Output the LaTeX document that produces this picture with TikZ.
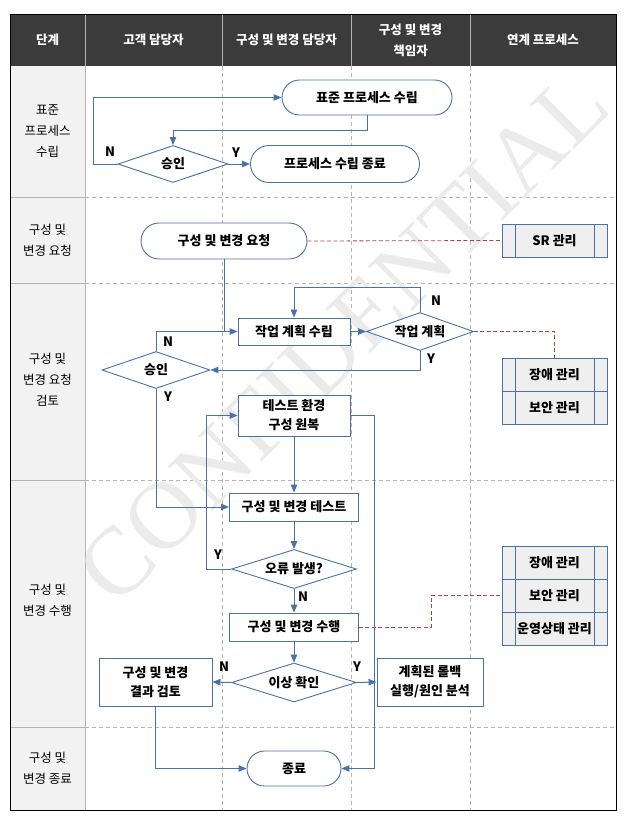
\documentclass[tikz,border=0pt]{standalone}
\usepackage{fontspec}
\setmainfont{Noto Sans CJK KR}
\newfontfamily\markfont{Liberation Serif}
\usetikzlibrary{arrows.meta, shapes.geometric, shapes.misc}
\definecolor{flow-blue}{HTML}{4A72A6}
\definecolor{head-dark}{HTML}{3B3B3B}
\definecolor{stage-gray}{HTML}{F2F2F2}
\definecolor{link-red}{HTML}{A04A4A}
\definecolor{grid-gray}{HTML}{B4B4B4}
\definecolor{cell-gray}{HTML}{EFEFEF}

\begin{document}
\begin{tikzpicture}[x=1pt, y=-1pt,
    every node/.style={font=\fontsize{13}{19}\selectfont\bfseries},
    terminal/.style={rounded rectangle, draw=flow-blue, line width=0.9pt, fill=white, inner sep=0pt},
    procbox/.style={rectangle, draw=flow-blue, line width=0.9pt, fill=white, align=center, inner sep=0pt},
    decision/.style={diamond, draw=flow-blue, line width=0.9pt, fill=white, aspect=3, inner sep=0pt},
    relbox/.style={rectangle, draw=flow-blue, line width=0.9pt, fill=cell-gray, minimum width=105pt,
      minimum height=33pt, inner sep=0pt,
      path picture={\draw[flow-blue, line width=0.9pt]
        ([xshift=13pt]path picture bounding box.north west) -- ([xshift=13pt]path picture bounding box.south west)
        ([xshift=-13pt]path picture bounding box.north east) -- ([xshift=-13pt]path picture bounding box.south east);}},
    flow/.style={draw=flow-blue, line width=1pt, -{Triangle[length=8pt, width=6.5pt]}},
    link/.style={draw=link-red, line width=0.8pt, dash pattern=on 4pt off 2.5pt},
    gridline/.style={grid-gray, line width=0.6pt, dash pattern=on 4pt off 3pt},
    headtext/.style={text=white, align=center, font=\fontsize{12.5}{21}\selectfont\bfseries},
    stagetext/.style={align=center, font=\fontsize{12.5}{21}\selectfont},
    yn/.style={font=\fontsize{13}{14}\selectfont\bfseries}]
  \useasboundingbox (0,0) rectangle (633,817);

  % table
  \fill[head-dark] (10,14) rectangle (616,66);
  \fill[stage-gray] (10,66) rectangle (85,810);
  \draw[white!70!black, line width=0.8pt] (85,14) -- (85,66) (222,14) -- (222,66)
    (351,14) -- (351,66) (470,14) -- (470,66);
  \draw[grid-gray, line width=0.8pt] (85,66) -- (85,810);
  \draw[gridline] (222,66) -- (222,810) (351,66) -- (351,810) (470,66) -- (470,810);
  \draw[grid-gray, line width=0.6pt] (10,197) -- (85,197) (10,283) -- (85,283)
    (10,480) -- (85,480) (10,727) -- (85,727);
  \draw[gridline] (85,197) -- (616,197) (85,283) -- (616,283)
    (85,480) -- (616,480) (85,727) -- (616,727);

  \node[rotate=45, text=black!8, font=\markfont\fontsize{96}{96}\selectfont] (mark) at (343,337) {CONFIDENTIAL};

  \node[headtext] (hd1) at (47.5,40) {단계};
  \node[headtext] (hd2) at (153.5,40) {고객 담당자};
  \node[headtext] (hd3) at (286.5,40) {구성 및 변경 담당자};
  \node[headtext] (hd4) at (410.5,40) {구성 및 변경\\책임자};
  \node[headtext] (hd5) at (543,40) {연계 프로세스};

  \node[stagetext] (st1) at (47.5,131) {표준\\프로세스\\수립};
  \node[stagetext] (st2) at (47.5,240) {구성 및\\변경 요청};
  \node[stagetext] (st3) at (47.5,380) {구성 및\\변경 요청\\검토};
  \node[stagetext] (st4) at (47.5,600) {구성 및\\변경 수행};
  \node[stagetext] (st5) at (47.5,768) {구성 및\\변경 종료};

  % process nodes
  \node[terminal, minimum width=170pt, minimum height=35pt] (std) at (367,97.5) {표준 프로세스 수립};
  \node[decision, minimum width=110pt, minimum height=37pt] (ok1) at (173,164) {승인};
  \node[terminal, minimum width=169pt, minimum height=37pt] (stdend) at (335,164) {프로세스 수립 종료};

  \node[terminal, minimum width=166pt, minimum height=36pt] (req) at (224,241) {구성 및 변경 요청};
  \node[relbox] (sr) at (554.5,240.5) {SR 관리};

  \node[procbox, minimum width=112pt, minimum height=27pt] (plan) at (294,331.5) {작업 계획 수립};
  \node[decision, minimum width=107pt, minimum height=38pt] (chk) at (420,331.5) {작업 계획};
  \node[decision, minimum width=108pt, minimum height=37pt] (ok2) at (156,370) {승인};
  \node[procbox, minimum width=112pt, minimum height=41pt] (restore) at (294,415.5) {테스트 환경\\구성 원복};
  \node[relbox] (fault1) at (554.5,374.5) {장애 관리};
  \node[relbox] (sec1) at (554.5,407.5) {보안 관리};

  \node[procbox, minimum width=129pt, minimum height=28pt] (test) at (294,507) {구성 및 변경 테스트};
  \node[decision, minimum width=125pt, minimum height=39pt] (err) at (294,569) {오류 발생?};
  \node[procbox, minimum width=129pt, minimum height=28pt] (exec) at (294,627) {구성 및 변경 수행};
  \node[decision, minimum width=125pt, minimum height=39pt] (anom) at (294,682.5) {이상 확인};
  \node[procbox, minimum width=113pt, minimum height=48pt] (review) at (155.5,682) {구성 및 변경\\결과 검토};
  \node[procbox, minimum width=106pt, minimum height=48pt] (rollback) at (430,682) {계획된 롤백\\실행/원인 분석};
  \node[relbox] (fault2) at (554.5,562.5) {장애 관리};
  \node[relbox] (sec2) at (554.5,595.5) {보안 관리};
  \node[relbox] (ops) at (554.5,628.5) {운영상태 관리};

  \node[terminal, minimum width=94pt, minimum height=35pt] (end) at (294,768.5) {종료};

  % connectors
  \draw[flow] (ok1.west) -- ++(-24,0) |- (std.west);
  \draw[flow] (std.south) -- ++(0,15) -| (ok1.north);
  \draw[flow] (ok1.east) -- (stdend.west);
  \node[yn] (n1) at (110,152) {N};
  \node[yn] (y1) at (236,153) {Y};

  \draw[link] (req.east) -- (sr.west);

  \draw[flow] (req.south) |- (plan.west);
  \draw[draw=flow-blue, line width=1pt] (ok2.north) |- (req.south |- plan.west);
  \draw[flow] (plan.east) -- (chk.west);
  \draw[flow] (chk.north) -- ++(0,-25) -| (plan.north);
  \draw[flow] (chk.south) |- (ok2.east);
  \draw[link] (chk.east) -| (fault1.north);
  \draw[flow] (ok2.south) |- (test.west);
  \draw[flow] (restore.south) -- (test.north);
  \node[yn] (n2) at (168,342) {N};
  \node[yn] (y2) at (168,397) {Y};
  \node[yn] (n3) at (436,301) {N};
  \node[yn] (y3) at (431,359) {Y};

  \draw[flow] (test.south) -- (err.north);
  \draw[flow] (err.west) -- ++(-25,0) |- (restore.west);
  \draw[flow] (err.south) -- (exec.north);
  \draw[flow] (exec.south) -- (anom.north);
  \draw[flow] (anom.west) -- (review.east);
  \draw[flow] (anom.east) -- (rollback.west);
  \draw[link] (exec.east) -- ++(72,0) |- (sec2.west);
  \node[yn] (y4) at (218,555) {Y};
  \node[yn] (n4) at (303,597) {N};
  \node[yn] (n5) at (224,667) {N};
  \node[yn] (y5) at (357,667) {Y};

  \draw[flow] (restore.east) -- ++(24,0) |- (end.east);
  \draw[flow] (review.south) |- (end.west);

  \draw[black, line width=1pt] (10,14) rectangle (616,810);
\end{tikzpicture}
\end{document}
